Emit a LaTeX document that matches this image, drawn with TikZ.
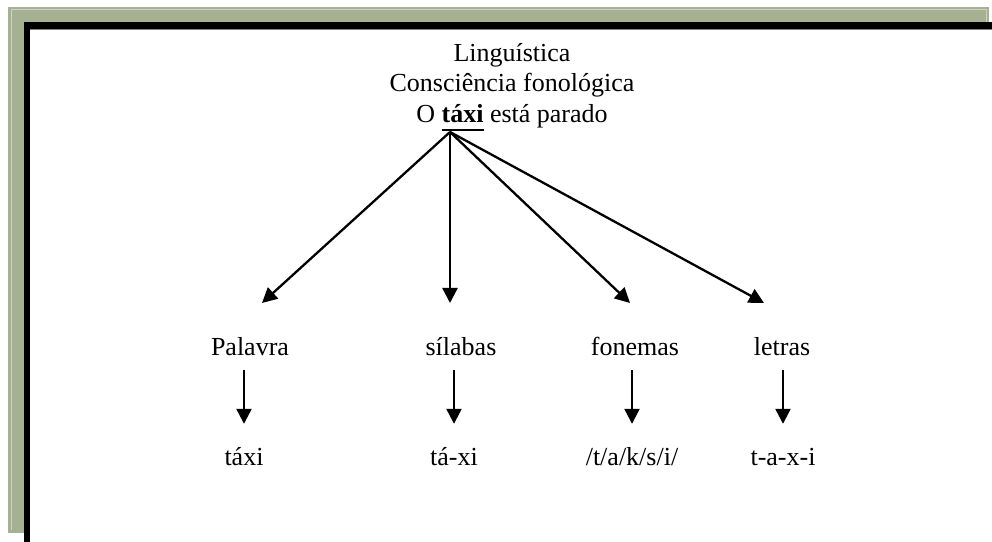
\documentclass[tikz,border=0pt]{standalone}
\usepackage{fontspec}
\setmainfont{Liberation Serif}
\usetikzlibrary{arrows.meta}
\definecolor{frameGreen}{RGB}{166,176,146}
\definecolor{frameLight}{RGB}{205,212,190}
\newcommand{\myul}[1]{\vtop{\hbox{#1}\kern6bp\hrule height 2bp}}
\begin{document}
\begin{tikzpicture}[x=1bp,y=-1bp,
  lbl/.style={font=\fontsize{26bp}{30bp}\selectfont, anchor=base, inner sep=0pt, text height=18bp, text depth=0pt},
  arr/.style={line width=2.3bp, -{Triangle[length=15bp,width=15bp]}}]
\useasboundingbox (0,0) rectangle (992,542);
% frame
\fill[frameGreen] (8,7) rectangle (989,533);
\draw[frameLight, line width=1bp] (11,530) -- (11,10) -- (986,10) -- (986,530);
\fill[black] (24,22) rectangle (992,542);
\fill[white] (30,29) rectangle (992,542);
\draw[gray, line width=0.8bp] (30,29) -- (992,29);
% title
\node[lbl] (t1) at (512,62) {Linguística};
\node[lbl] (t2) at (512,92) {Consciência fonológica};
\node[lbl] (t3) at (512,123) {O \myul{\textbf{táxi}} está parado};
\coordinate (apex) at (450,132);
% upper labels
\node[lbl] (pal) at (250,356) {Palavra};
\node[lbl] (sil) at (461,356) {sílabas};
\node[lbl] (fon) at (635,356) {fonemas};
\node[lbl] (let) at (782,356) {letras};
% lower labels
\node[lbl] (tx) at (244,465) {táxi};
\node[lbl] (txs) at (454,465) {tá-xi};
\node[lbl] (txf) at (632,465) {/t/a/k/s/i/};
\node[lbl] (txl) at (783,465) {t-a-x-i};
% arrow tips
\coordinate (tp1) at (262,303);
\coordinate (tp2) at (450,303);
\coordinate (tp3) at (630,303);
\coordinate (tp4) at (764,303);
\draw[arr] (apex) -- (tp1);
\draw[arr] (apex) -- (tp2);
\draw[arr] (apex) -- (tp3);
\draw[arr] (apex) -- (tp4);
% lower arrows
\draw[arr, shorten <=14bp, shorten >=23bp] (tx.north |- pal.south) -- (tx.north);
\draw[arr, shorten <=14bp, shorten >=23bp] (txs.north |- sil.south) -- (txs.north);
\draw[arr, shorten <=14bp, shorten >=23bp] (txf.north |- fon.south) -- (txf.north);
\draw[arr, shorten <=14bp, shorten >=23bp] (txl.north |- let.south) -- (txl.north);
\end{tikzpicture}
\end{document}
